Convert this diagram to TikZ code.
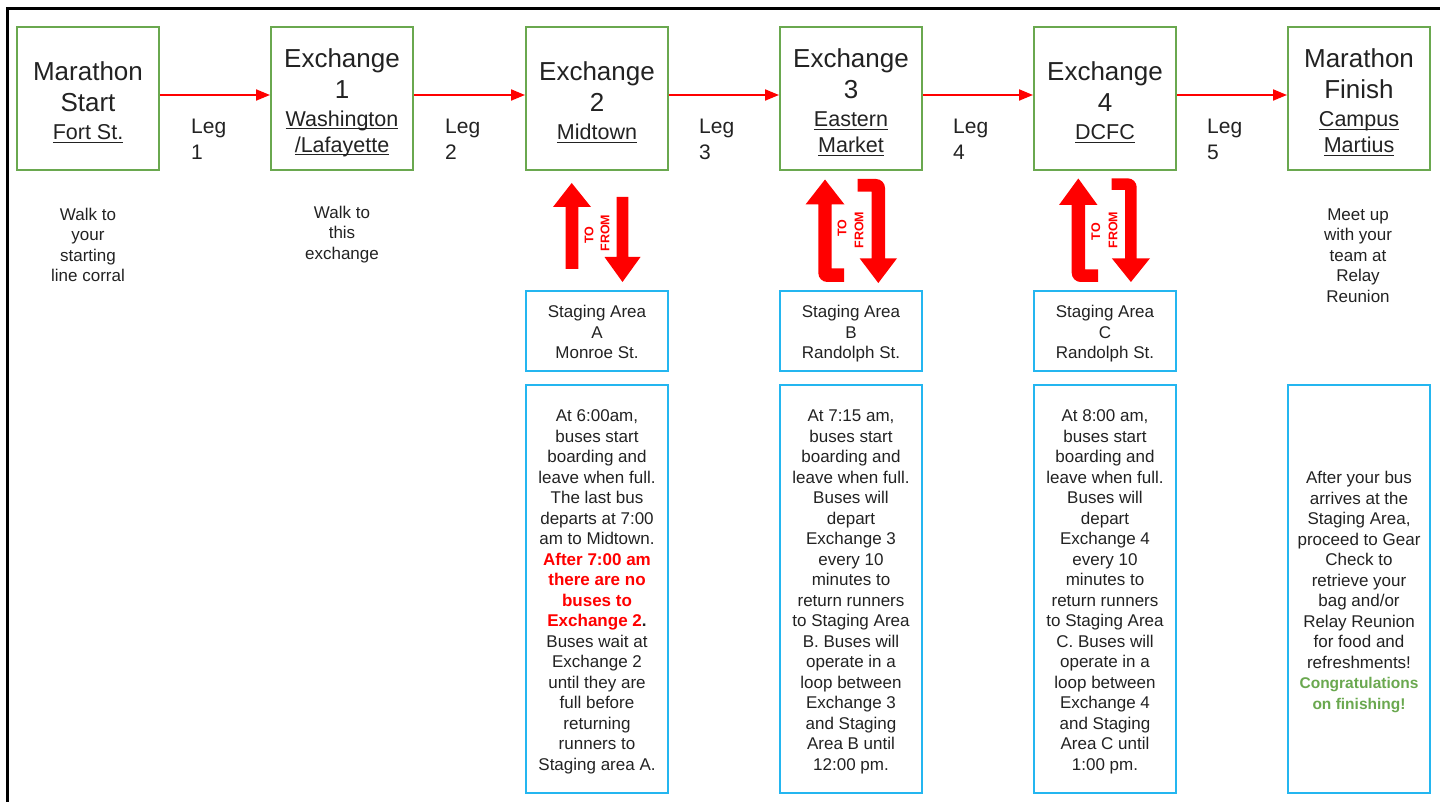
\documentclass[tikz,border=0pt]{standalone}
\usepackage{fontspec}
\setmainfont{Liberation Sans}
\usetikzlibrary{arrows.meta}
\definecolor{gcol}{RGB}{106,168,79}
\definecolor{bcol}{RGB}{36,182,240}
\definecolor{rcol}{RGB}{255,0,0}
\definecolor{tcol}{RGB}{34,34,34}
\newcommand\fbig{\fontsize{26}{26}\selectfont}
\newcommand\fmid{\fontsize{21.5}{26}\selectfont}
\newcommand\fleg{\fontsize{21}{26}\selectfont}
\newcommand\fsml{\fontsize{17}{20.5}\selectfont}
\newcommand\ulx[1]{\leavevmode\setbox0=\hbox{#1}\rlap{\rule[-3pt]{\wd0}{1.3pt}}\box0}
\newcommand\rb[1]{\textcolor{rcol}{\bfseries #1}}
\newcommand\gb[1]{\textcolor{gcol}{\bfseries\fontsize{15.5}{20.5}\selectfont #1}}
\begin{document}
\begin{tikzpicture}[x=1pt,y=-1pt,
  every node/.style={text=tcol},
  gbox/.style={draw=gcol, line width=2pt, minimum width=142pt, minimum height=143pt, inner sep=0pt},
  gtext/.style={align=center, inner sep=0pt, font=\fmid},
  sbox/.style={draw=bcol, line width=2.5pt, minimum width=142pt, minimum height=80pt, inner sep=0pt},
  ibox/.style={draw=bcol, line width=2.5pt, minimum width=142pt, minimum height=408pt, inner sep=0pt},
  btext/.style={align=center, inner sep=0pt, font=\fsml},
  leglbl/.style={anchor=west, align=left, inner sep=0pt, font=\fleg},
  note/.style={align=center, inner sep=0pt, font=\fsml},
  tofrom/.style={text=rcol, font=\bfseries\fontsize{12.5}{12.5}\selectfont, rotate=90, inner sep=0pt},
  redarrow/.style={draw=rcol, line width=2pt, -{Triangle[length=14pt,width=11pt]}},
  bigarrow/.style={fill=rcol}]
\useasboundingbox (0,0) rectangle (1440,802);
% outer frame
\draw[line width=3pt] (7,802) -- (7,9) -- (1440,9);

% top row
\node[gbox] (b1) at (88,98.5) {};
\node[gbox] (b2) at (342,98.5) {};
\node[gbox] (b3) at (597,98.5) {};
\node[gbox] (b4) at (851,98.5) {};
\node[gbox] (b5) at (1105,98.5) {};
\node[gbox] (b6) at (1359,98.5) {};
\node[gtext] (b1t) at ([yshift=-4pt]b1.center) {\fbig Marathon\\[5pt]\fbig Start\\[2pt]\ulx{Fort St.}};
\node[gtext] (b2t) at ([yshift=-4pt]b2.center) {\fbig Exchange\\[5pt]\fbig 1\\[2pt]\ulx{Washington}\\\ulx{/Lafayette}};
\node[gtext] (b3t) at ([yshift=-4pt]b3.center) {\fbig Exchange\\[5pt]\fbig 2\\[2pt]\ulx{Midtown}};
\node[gtext] (b4t) at ([yshift=-4pt]b4.center) {\fbig Exchange\\[5pt]\fbig 3\\[2pt]\ulx{Eastern}\\\ulx{Market}};
\node[gtext] (b5t) at ([yshift=-4pt]b5.center) {\fbig Exchange\\[5pt]\fbig 4\\[2pt]\ulx{DCFC}};
\node[gtext] (b6t) at ([yshift=-4pt]b6.center) {\fbig Marathon\\[5pt]\fbig Finish\\[2pt]\ulx{Campus}\\\ulx{Martius}};

\foreach \a/\b in {b1/b2,b2/b3,b3/b4,b4/b5,b5/b6}
  \draw[redarrow] ([yshift=3.5pt]\a.east) -- ([yshift=3.5pt]\b.west);

\node[leglbl] (l1) at (191,139) {Leg\\1};
\node[leglbl] (l2) at (445,139) {Leg\\2};
\node[leglbl] (l3) at (699,139) {Leg\\3};
\node[leglbl] (l4) at (953,139) {Leg\\4};
\node[leglbl] (l5) at (1207,139) {Leg\\5};

% notes under boxes
\node[note] (n1) at (88,245) {Walk to\\your\\starting\\line corral};
\node[note] (n2) at (342,234.5) {Walk to\\this\\exchange};
\node[note] (n6) at (1358,255.5) {Meet up\\with your\\team at\\Relay\\Reunion};

% staging boxes
\node[sbox] (s3) at (597,331) {};
\node[sbox] (s4) at (851,331) {};
\node[sbox] (s5) at (1105,331) {};
\node[btext] (s3t) at ([yshift=-1pt]s3.center) {Staging Area\\A\\Monroe St.};
\node[btext] (s4t) at ([yshift=-3pt]s4.center) {Staging Area\\B\\Randolph St.};
\node[btext] (s5t) at ([yshift=-3pt]s5.center) {Staging Area\\C\\Randolph St.};

% info boxes
\node[ibox] (i3) at (597,589) {};
\node[ibox] (i4) at (851,589) {};
\node[ibox] (i5) at (1105,589) {};
\node[ibox] (i6) at (1359,589) {};
\node[btext] (i3t) at ([yshift=-3pt]i3.center) {At 6:00am,\\buses start\\boarding and\\leave when full.\\The last bus\\departs at 7:00\\am to Midtown.\\\rb{After 7:00 am}\\\rb{there are no}\\\rb{buses to}\\\rb{Exchange 2}\textbf{.}\\Buses wait at\\Exchange 2\\until they are\\full before\\returning\\runners to\\Staging area A.};
\node[btext] (i4t) at ([yshift=-3pt]i4.center) {At 7:15 am,\\buses start\\boarding and\\leave when full.\\Buses will\\depart\\Exchange 3\\every 10\\minutes to\\return runners\\to Staging Area\\B. Buses will\\operate in a\\loop between\\Exchange 3\\and Staging\\Area B until\\12:00 pm.};
\node[btext] (i5t) at ([yshift=-3pt]i5.center) {At 8:00 am,\\buses start\\boarding and\\leave when full.\\Buses will\\depart\\Exchange 4\\every 10\\minutes to\\return runners\\to Staging Area\\C. Buses will\\operate in a\\loop between\\Exchange 4\\and Staging\\Area C until\\1:00 pm.};
\node[btext] (i6t) at ([yshift=-3pt]i6.center) {After your bus\\arrives at the\\Staging Area,\\proceed to Gear\\Check to\\retrieve your\\bag and/or\\Relay Reunion\\for food and\\refreshments!\\\gb{Congratulations}\\\gb{on finishing!}};

% to/from arrows under Exchange 2
\fill[bigarrow] (571.7,183) -- (591,207) -- (578.3,207) -- (578.3,269) -- (565.7,269) -- (565.7,207) -- (553,207) -- cycle;
\fill[bigarrow] (616.7,197) -- (628.3,197) -- (628.3,257) -- (640.5,257) -- (622.5,282) -- (604.5,257) -- (616.7,257) -- cycle;
\node[tofrom] (t3) at (589,235) {TO};
\node[tofrom] (f3) at (605,233) {FROM};

% under Exchange 3
\fill[bigarrow] (825,179.5) -- (844.5,204.5) -- (831.7,204.5) -- (831.7,268.5) -- (844,268.5) -- (844,282) -- (830,282) [rounded corners=9pt] -- (818.3,282) -- (818.3,250) [sharp corners] -- (818.3,204.5) -- (805.5,204.5) -- cycle;
\fill[bigarrow] (857.7,179) -- (870,179) [rounded corners=9pt] -- (885,179) -- (885,220) [sharp corners] -- (885,258.3) -- (897,258.3) -- (878.3,283) -- (859.6,258.3) -- (871.7,258.3) -- (871.7,191.7) -- (857.7,191.7) -- cycle;
\node[tofrom] (t4) at (842,228) {TO};
\node[tofrom] (f4) at (859,230) {FROM};

% under Exchange 4
\fill[bigarrow] (1078.3,178.5) -- (1097.5,205) -- (1085,205) -- (1085,269.5) -- (1098,269.5) -- (1098,282) -- (1083,282) [rounded corners=9pt] -- (1071.7,282) -- (1071.7,250) [sharp corners] -- (1071.7,205) -- (1059,205) -- cycle;
\fill[bigarrow] (1111.7,178.3) -- (1122,178.3) [rounded corners=9pt] -- (1136.7,178.3) -- (1136.7,220) [sharp corners] -- (1136.7,258.3) -- (1150,258.3) -- (1130.9,282) -- (1111.8,258.3) -- (1125,258.3) -- (1125,190) -- (1111.7,190) -- cycle;
\node[tofrom] (t5) at (1095.7,231.7) {TO};
\node[tofrom] (f5) at (1113,230) {FROM};
\end{tikzpicture}
\end{document}
